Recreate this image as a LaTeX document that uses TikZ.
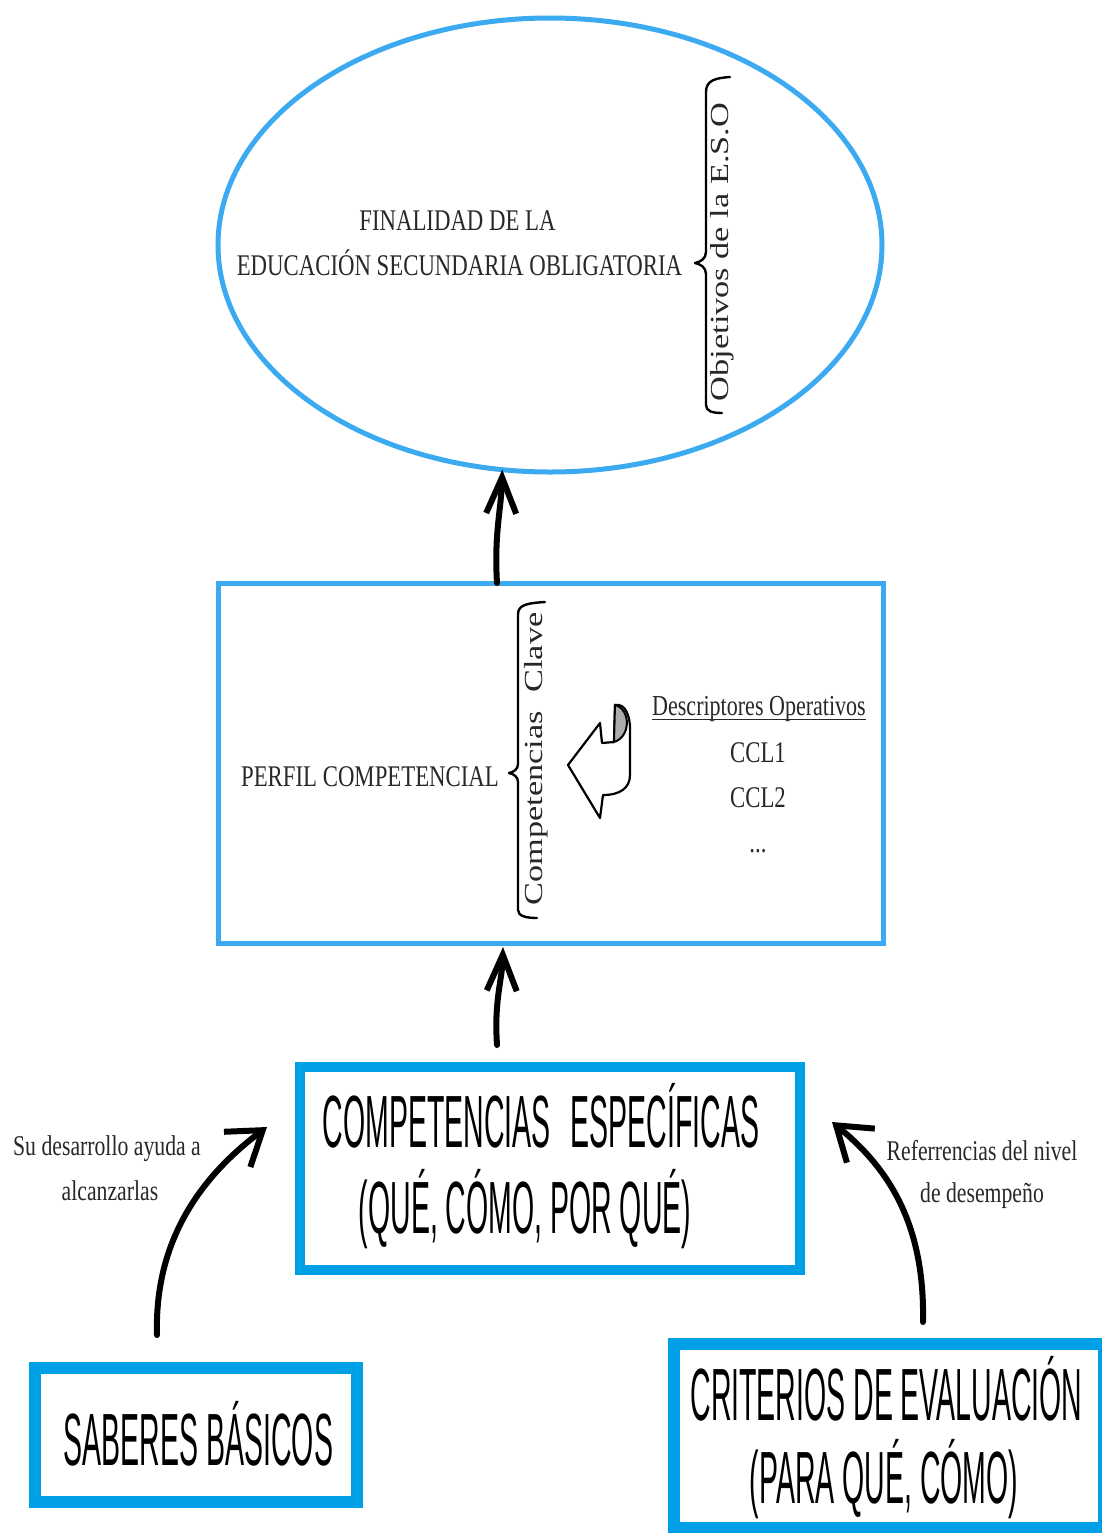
\documentclass[tikz,border=0pt]{standalone}
\usepackage{fontspec}
\setmainfont{Liberation Serif}
\newfontfamily\cserif[FakeStretch=0.76]{Liberation Serif}
\newfontfamily\lserif[FakeStretch=1.32]{Liberation Serif}
\newfontfamily\handfont[FakeStretch=0.385]{Liberation Sans}
\usetikzlibrary{shapes.geometric,arrows.meta}
\definecolor{blueA}{RGB}{0,160,230}
\definecolor{blueB}{RGB}{60,170,240}
\definecolor{txtgray}{RGB}{40,40,40}
\begin{document}
\begin{tikzpicture}[x=0.5pt,y=-0.5pt,
  lbl/.style={inner sep=0pt, anchor=base, text=txtgray, font=\cserif\fontsize{15pt}{18pt}\selectfont},
  small/.style={lbl, font=\cserif\fontsize{14.3pt}{17pt}\selectfont},
  hand/.style={inner sep=0pt, anchor=base, text=black, font=\handfont\fontsize{37pt}{44pt}\selectfont},
  rot/.style={inner sep=0pt, anchor=base, rotate=90, text=txtgray, font=\lserif\fontsize{13pt}{16pt}\selectfont},
  thinbox/.style={draw=blueB, line width=2.5pt, rectangle, inner sep=0pt, outer sep=0pt},
  thickbox/.style={draw=blueA, rectangle, inner sep=0pt, outer sep=0pt},
  vbrush/.style={line width=3pt, line cap=round, -{Straight Barb[length=18pt,width=15pt]}},
  cbrush/.style={line width=3pt, line cap=round, -{Straight Barb[length=16pt,width=22pt]}},
  bracepath/.style={line width=1.2pt, line join=round, line cap=round},
]
\path[use as bounding box, fill=white] (0,0) rectangle (1102,1533);

% shapes
\node[ellipse, draw=blueB, line width=2.5pt, minimum width=332pt, minimum height=227pt, inner sep=0pt, outer sep=0pt] (ell) at (550,245) {};
\node[thinbox, minimum width=332.5pt, minimum height=180pt] (mid) at (550.5,763) {};
\node[thickbox, line width=5pt, minimum width=250pt, minimum height=101.5pt] (comp) at (550,1168.5) {};
\node[thickbox, line width=6pt, minimum width=161pt, minimum height=67pt] (sab) at (196,1435) {};
\node[thickbox, line width=6pt, minimum width=215pt, minimum height=92pt] (crit) at (889,1436) {};

% texts in ellipse
\node[lbl] (fin1) at (457.5,230) {FINALIDAD DE LA};
\node[lbl] (fin2) at (459.5,275) {EDUCACIÓN SECUNDARIA OBLIGATORIA};
\node[rot] (obj) at (728,252) {Objetivos de la E.S.O};
\draw[bracepath] (730,77) .. controls (716,78) and (706,80) .. (706,92) -- (706,252)
  .. controls (706,259) and (700,262) .. (695,263) .. controls (700,264) and (706,267) .. (706,274)
  -- (706,405) .. controls (706,411) and (712,413) .. (722,413);

% texts in middle box
\node[lbl] (perfil) at (370,786) {PERFIL COMPETENCIAL};
\node[rot] (ccl) at (542,759) {Competencias\hspace{5pt} Clave};
\draw[bracepath] (545,602) .. controls (530,603) and (518,604) .. (518,614) -- (518,764)
  .. controls (518,769) and (514,772) .. (509,773) .. controls (514,774) and (518,777) .. (518,782)
  -- (518,910) .. controls (518,916) and (526,918) .. (537,918);
\node[small, font=\cserif\fontsize{14.5pt}{17pt}\selectfont] (desc) at (759,715) {Descriptores Operativos};
\draw[line width=0.7pt, txtgray] ([yshift=-2.3pt]desc.base west) -- ([yshift=-2.3pt]desc.base east);
\node[lbl] (c1) at (758,762) {CCL1};
\node[lbl] (c2) at (758,807) {CCL2};
\node[lbl] (c3) at (758,852) {...};

% hollow curved arrow
\draw[line width=1.1pt, line join=round, fill=white] (568,765) -- (600,723) -- (602,743) -- (614,742)
  -- (615,705) .. controls (625,703) and (631,715) .. (630,735) -- (630,775)
  .. controls (630,788) and (620,795) .. (603,795) -- (600,818) -- cycle;
\draw[line width=1pt, fill=gray!65] (615,705) .. controls (631,709) and (631,737) .. (614,742) -- cycle;

% bottom texts
\node[hand] (ce1) at (541,1147) {COMPETENCIAS\hspace{10pt}ESPECÍFICAS};
\node[hand] (ce2) at (525,1233) {(QUÉ, CÓMO, POR QUÉ)};
\node[hand] (sb) at (198.5,1465) {SABERES BÁSICOS};
\node[hand] (cr1) at (886.5,1420) {CRITERIOS DE EVALUACIÓN};
\node[hand] (cr2) at (884,1503) {(PARA QUÉ, CÓMO)};
\node[small] (su1) at (107,1155) {Su desarrollo ayuda a};
\node[small] (su2) at (110,1200) {alcanzarlas};
\node[small] (re1) at (982,1160) {Referrencias del nivel};
\node[small] (re2) at (982,1202) {de desempeño};

% arrows
\draw[vbrush] ([xshift=-26.75pt]mid.north) .. controls +(-3,-50) and +(-1,40) .. (ell.258);
\draw[vbrush] ([xshift=-26.5pt,yshift=11pt]comp.north) .. controls +(-3,-45) and +(-1,35) .. ([xshift=-23.75pt,yshift=-2pt]mid.south);
\draw[cbrush] ([xshift=-19.5pt,yshift=16.5pt]sab.north) .. controls +(-3,-100) and +(-60,45) .. ([xshift=-16.5pt,yshift=20.75pt]comp.west);
\draw[cbrush] ([xshift=17pt,yshift=11pt]crit.north) .. controls +(2,-100) and +(55,45) .. ([xshift=16pt,yshift=23.25pt]comp.east);
\end{tikzpicture}
\end{document}
